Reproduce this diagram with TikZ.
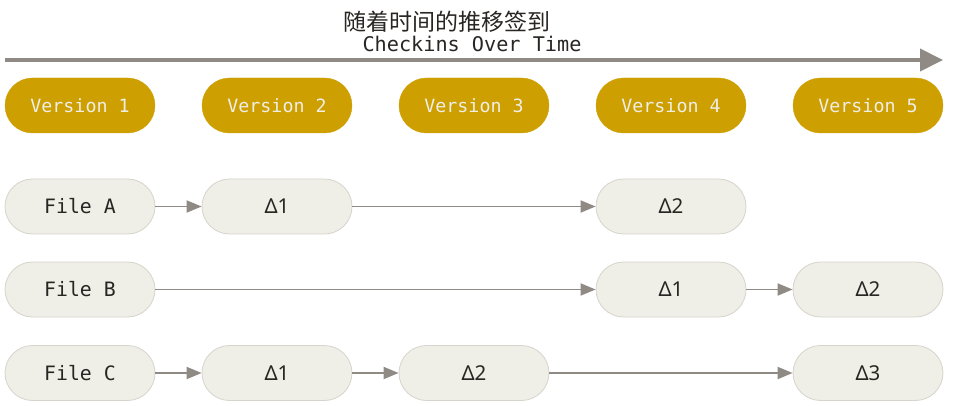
\documentclass[tikz,border=0pt]{standalone}
\usepackage{fontspec}
\setmonofont{DejaVu Sans Mono}
\setsansfont{Noto Sans}
\newfontfamily\cjk{Noto Sans CJK SC}
\usetikzlibrary{arrows.meta}
\definecolor{gold}{RGB}{205,159,0}
\definecolor{paper}{RGB}{239,238,231}
\definecolor{rim}{RGB}{214,212,204}
\definecolor{ash}{RGB}{143,138,132}
\definecolor{ink}{RGB}{40,37,34}
\tikzset{
  ver/.style={fill=gold, draw=gold, rounded corners=27.5pt, minimum width=150pt, minimum height=55pt,
    text=paper, font=\ttfamily\fontsize{18.3}{20}\selectfont},
  file/.style={fill=paper, draw=rim, line width=0.8pt, rounded corners=27.5pt, minimum width=150pt, minimum height=55pt,
    text=ink, font=\ttfamily\fontsize{19.8}{22}\selectfont},
  delta/.style={file, font=\sffamily\fontsize{20.5}{22}\selectfont},
  link/.style={ash, line width=1.8pt, -{Triangle[length=15pt,width=12pt]}}
}
\begin{document}
\begin{tikzpicture}[x=1pt,y=-1pt]
\useasboundingbox (0,0) rectangle (953,406);
\node[text=ink] (zh) at (447,22) {\cjk\fontsize{23}{26}\selectfont 随着时间的推移签到};
\node[text=ink] (title) at (472,44) {\ttfamily\fontsize{20.2}{22}\selectfont Checkins Over Time};
\coordinate (t0) at (5,60);
\coordinate (t1) at (943,60);
\draw[ash, line width=4pt, -{Triangle[length=23pt,width=22pt]}] (t0) -- (t1);
\node[ver] (v1) at (80,105.5) {Version 1};
\node[ver] (v2) at (277,105.5) {Version 2};
\node[ver] (v3) at (474,105.5) {Version 3};
\node[ver] (v4) at (671,105.5) {Version 4};
\node[ver] (v5) at (868,105.5) {Version 5};
\node[file] (fa) at (80,206.5) {File A};
\node[delta] (a1) at (277,206.5) {Δ1};
\node[delta] (a2) at (671,206.5) {Δ2};
\node[file] (fb) at (80,289.5) {File B};
\node[delta] (b1) at (671,289.5) {Δ1};
\node[delta] (b2) at (868,289.5) {Δ2};
\node[file] (fc) at (80,373) {File C};
\node[delta] (c1) at (277,373) {Δ1};
\node[delta] (c2) at (474,373) {Δ2};
\node[delta] (c3) at (868,373) {Δ3};
\draw[link] (fa) -- (a1);
\draw[link] (a1) -- (a2);
\draw[link] (fb) -- (b1);
\draw[link] (b1) -- (b2);
\draw[link] (fc) -- (c1);
\draw[link] (c1) -- (c2);
\draw[link] (c2) -- (c3);
\end{tikzpicture}
\end{document}
